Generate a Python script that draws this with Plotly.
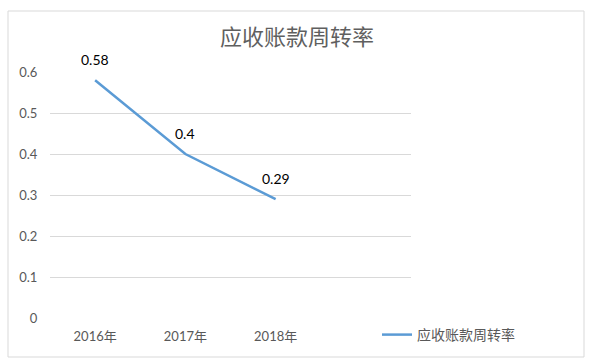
import plotly.graph_objects as go

categories = ["2016年", "2017年", "2018年"]
values = [0.58, 0.4, 0.29]
y_ticks = [0, 0.1, 0.2, 0.3, 0.4, 0.5, 0.6]
series_name = "应收账款周转率"
title_text = "应收账款周转率"

W, H = 593, 364
L, R, T, B = 50, 411, 72, 318
pw, ph = R - L, B - T

fig = go.Figure()
fig.add_trace(go.Scatter(
    x=[0, 1, 2], y=values, mode="lines", name=series_name,
    line=dict(color="#5B9BD5", width=2.5),
))

for i, v in enumerate(values):
    fig.add_annotation(x=i, y=v, text=f"{v:g}", showarrow=False,
                       yshift=21, font=dict(size=14, color="#000000",
                                            family="Lato, Noto Sans CJK SC"))

def px(x):
    return (x - L) / pw

def py(y):
    return (B - y) / ph

fig.add_shape(type="rect", xref="paper", yref="paper",
              x0=px(8), x1=px(584), y0=py(357), y1=py(11),
              line=dict(color="#D9D9D9", width=1), fillcolor="rgba(0,0,0,0)",
              layer="below")

fig.update_layout(
    width=W, height=H,
    margin=dict(l=L, r=W - R, t=T, b=H - B, pad=0),
    paper_bgcolor="white", plot_bgcolor="white",
    title=dict(text=title_text, x=297 / W, xanchor="center", xref="container",
               y=1 - 37 / H, yanchor="middle", yref="container",
               font=dict(size=22, color="#5f5f5f", family="Noto Sans CJK SC")),
    showlegend=True,
    legend=dict(x=px(377), y=py(335), xanchor="left", yanchor="middle",
                font=dict(size=14, color="#595959", family="Noto Sans CJK SC"),
                bgcolor="rgba(0,0,0,0)"),
    font=dict(family="Lato, Noto Sans CJK SC", color="#595959", size=13),
)

fig.update_xaxes(range=[-0.5, 3.5], tickvals=[0, 1, 2], ticktext=categories,
                 showgrid=False, zeroline=False, showline=False,
                 ticks="outside", ticklen=6, tickcolor="rgba(0,0,0,0)",
                 tickfont=dict(size=13, color="#595959"), fixedrange=True)
fig.update_yaxes(range=[0, 0.6], tickvals=y_ticks, ticktext=[f"{t:g}" for t in y_ticks],
                 showgrid=True, gridcolor="#D9D9D9", gridwidth=1,
                 zeroline=False, showline=False,
                 ticks="outside", ticklen=9, tickcolor="rgba(0,0,0,0)",
                 tickfont=dict(size=13, color="#595959"), fixedrange=True)

fig.write_html("out.html", config=dict(displayModeBar=False),
               post_script="document.body.style.margin='0';")
